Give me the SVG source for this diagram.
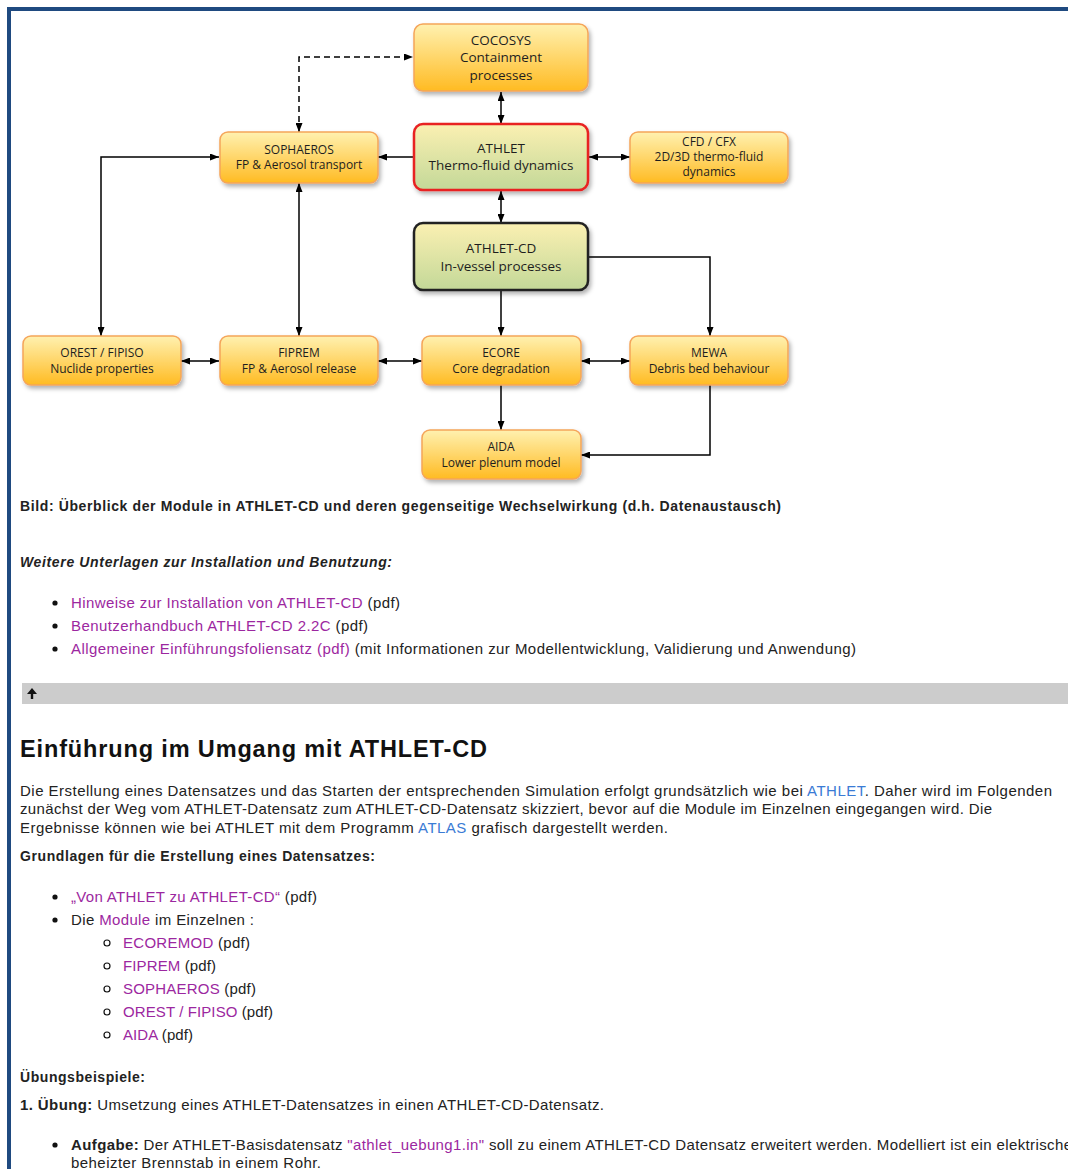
<svg xmlns="http://www.w3.org/2000/svg" width="1068" height="1169" viewBox="0 0 1068 1169">
<defs>
  <linearGradient id="gOrange" x1="0" y1="0" x2="0" y2="1">
    <stop offset="0" stop-color="#fff1b0"/>
    <stop offset="0.5" stop-color="#ffd66a"/>
    <stop offset="1" stop-color="#ffbb22"/>
  </linearGradient>
  <linearGradient id="gGreen" x1="0" y1="0" x2="0" y2="1">
    <stop offset="0" stop-color="#fbf0b2"/>
    <stop offset="1" stop-color="#c3d898"/>
  </linearGradient>
  <filter id="shadow" x="-10%" y="-10%" width="130%" height="140%">
    <feDropShadow dx="2" dy="3" stdDeviation="2" flood-color="#000" flood-opacity="0.3"/>
  </filter>
  <marker id="arr" viewBox="0 0 9 7" refX="9" refY="3.5" markerWidth="9" markerHeight="7" markerUnits="userSpaceOnUse" orient="auto-start-reverse">
    <path d="M0,0 L9,3.5 L0,7 z" fill="#000"/>
  </marker>
  <style>
    .box { fill: url(#gOrange); stroke: #f5a55a; stroke-width: 1.5; filter: url(#shadow); }
    .gbox { fill: url(#gGreen); filter: url(#shadow); }
    .nt { font-family: "Open Sans", "DejaVu Sans", sans-serif; font-size: 12px; fill: #1e1e1e; text-anchor: middle; }
    .nt2 { font-family: "Open Sans", "DejaVu Sans", sans-serif; font-size: 13.5px; fill: #1e1e1e; text-anchor: middle; }
    .cn { fill: none; stroke: #000; stroke-width: 1.5; }
    .t { font-family: "Liberation Sans", Arial, sans-serif; font-size: 15px; fill: #222; }
    .tb { font-family: "Liberation Sans", Arial, sans-serif; font-size: 14px; font-weight: bold; fill: #222; }
    .h { font-family: "Liberation Sans", Arial, sans-serif; font-size: 23.5px; font-weight: bold; fill: #111; }
    .b { font-weight: bold; }
    .lk { fill: #9c27a0; }
    .bl { fill: #3a7bd5; }
  </style>
</defs>
<rect x="0" y="0" width="1068" height="1169" fill="#fff"/>
<!-- frame -->
<path d="M9,1169 V9 H1068" fill="none" stroke="#1f4a80" stroke-width="4"/>

<g id="connectors">
  <path class="cn" d="M299,132 V57 H413" stroke-dasharray="6,4" marker-start="url(#arr)" marker-end="url(#arr)"/>
  <path class="cn" d="M501,92 V124" marker-start="url(#arr)" marker-end="url(#arr)"/>
  <path class="cn" d="M413,157 H378" marker-end="url(#arr)"/>
  <path class="cn" d="M589,157 H630" marker-start="url(#arr)" marker-end="url(#arr)"/>
  <path class="cn" d="M501,191 V223" marker-start="url(#arr)" marker-end="url(#arr)"/>
  <path class="cn" d="M219,157 H101 V336" marker-start="url(#arr)" marker-end="url(#arr)"/>
  <path class="cn" d="M299,183 V336" marker-start="url(#arr)" marker-end="url(#arr)"/>
  <path class="cn" d="M181,361 H219" marker-start="url(#arr)" marker-end="url(#arr)"/>
  <path class="cn" d="M378,361 H422" marker-start="url(#arr)" marker-end="url(#arr)"/>
  <path class="cn" d="M581,361 H630" marker-start="url(#arr)" marker-end="url(#arr)"/>
  <path class="cn" d="M501,291 V336" marker-end="url(#arr)"/>
  <path class="cn" d="M589,257 H710 V336" marker-end="url(#arr)"/>
  <path class="cn" d="M501,385 V430" marker-end="url(#arr)"/>
  <path class="cn" d="M710,385 V455 H581" marker-end="url(#arr)"/>
</g>

<g id="cocosys">
  <rect class="box" x="414" y="24" width="174" height="67" rx="9"/>
  <text class="nt2" x="501" y="45">COCOSYS</text>
  <text class="nt2" x="501" y="62">Containment</text>
  <text class="nt2" x="501" y="80">processes</text>
</g>
<g id="athlet">
  <rect class="gbox" x="414" y="124" width="174" height="66" rx="9" stroke="#e82020" stroke-width="2.5"/>
  <text class="nt2" x="501" y="153">ATHLET</text>
  <text class="nt2" x="501" y="170">Thermo-fluid dynamics</text>
</g>
<g id="cfd">
  <rect class="box" x="630" y="132" width="158" height="51" rx="8"/>
  <text class="nt" x="709" y="146">CFD / CFX</text>
  <text class="nt" x="709" y="161">2D/3D thermo-fluid</text>
  <text class="nt" x="709" y="176">dynamics</text>
</g>
<g id="sophaeros">
  <rect class="box" x="220" y="132" width="158" height="51" rx="8"/>
  <text class="nt" x="299" y="154">SOPHAEROS</text>
  <text class="nt" x="299" y="169">FP &amp; Aerosol transport</text>
</g>
<g id="athlet-cd">
  <rect class="gbox" x="414" y="223" width="174" height="67" rx="9" stroke="#222" stroke-width="2.5"/>
  <text class="nt2" x="501" y="253">ATHLET-CD</text>
  <text class="nt2" x="501" y="271">In-vessel  processes</text>
</g>
<g id="orest">
  <rect class="box" x="23" y="336" width="158" height="49" rx="8"/>
  <text class="nt" x="102" y="357">OREST / FIPISO</text>
  <text class="nt" x="102" y="373">Nuclide properties</text>
</g>
<g id="fiprem">
  <rect class="box" x="220" y="336" width="158" height="49" rx="8"/>
  <text class="nt" x="299" y="357">FIPREM</text>
  <text class="nt" x="299" y="373">FP &amp; Aerosol release</text>
</g>
<g id="ecore">
  <rect class="box" x="422" y="336" width="159" height="49" rx="8"/>
  <text class="nt" x="501" y="357">ECORE</text>
  <text class="nt" x="501" y="373">Core degradation</text>
</g>
<g id="mewa">
  <rect class="box" x="630" y="336" width="158" height="49" rx="8"/>
  <text class="nt" x="709" y="357">MEWA</text>
  <text class="nt" x="709" y="373">Debris bed behaviour</text>
</g>
<g id="aida">
  <rect class="box" x="422" y="430" width="159" height="49" rx="8"/>
  <text class="nt" x="501" y="451">AIDA</text>
  <text class="nt" x="501" y="467">Lower plenum model</text>
</g>

<g id="page-text">
  <text class="tb" x="20" y="511" textLength="761">Bild: Überblick der Module in ATHLET-CD und deren gegenseitige Wechselwirkung (d.h. Datenaustausch)</text>
  <text class="tb" x="20" y="567" font-style="italic" textLength="372">Weitere Unterlagen zur Installation und Benutzung:</text>

  <circle cx="55" cy="603" r="2.6" fill="#111"/>
  <circle cx="55" cy="626" r="2.6" fill="#111"/>
  <circle cx="55" cy="649" r="2.6" fill="#111"/>
  <text class="t" x="71" y="608" textLength="329"><tspan class="lk">Hinweise zur Installation von ATHLET-CD</tspan> (pdf)</text>
  <text class="t" x="71" y="631" textLength="297"><tspan class="lk">Benutzerhandbuch ATHLET-CD 2.2C</tspan> (pdf)</text>
  <text class="t" x="71" y="654" textLength="785"><tspan class="lk">Allgemeiner Einführungsfoliensatz (pdf)</tspan> (mit Informationen zur Modellentwicklung, Validierung und Anwendung)</text>

  <rect x="22" y="683" width="1046" height="21" fill="#cccccc"/>
  <path d="M27,694 L32,688 L37,694 L33.2,694 L33.2,699 L30.8,699 L30.8,694 Z" fill="#111"/>

  <text class="h" x="20" y="757" textLength="467">Einführung im Umgang mit ATHLET-CD</text>
  <text class="t" x="20" y="796" textLength="1032">Die Erstellung eines Datensatzes und das Starten der entsprechenden Simulation erfolgt grundsätzlich wie bei <tspan class="bl">ATHLET</tspan>. Daher wird im Folgenden</text>
  <text class="t" x="20" y="814" textLength="972">zunächst der Weg vom ATHLET-Datensatz zum ATHLET-CD-Datensatz skizziert, bevor auf die Module im Einzelnen eingegangen wird. Die</text>
  <text class="t" x="20" y="833" textLength="648">Ergebnisse können wie bei ATHLET mit dem Programm <tspan class="bl">ATLAS</tspan> grafisch dargestellt werden.</text>

  <text class="tb" x="20" y="861" textLength="355">Grundlagen für die Erstellung eines Datensatzes:</text>

  <circle cx="55" cy="897" r="2.6" fill="#111"/>
  <circle cx="55" cy="920" r="2.6" fill="#111"/>
  <text class="t" x="71" y="902" textLength="246"><tspan class="lk">„Von ATHLET zu ATHLET-CD“</tspan> (pdf)</text>
  <text class="t" x="71" y="925" textLength="183">Die <tspan class="lk">Module</tspan> im Einzelnen :</text>

  <g fill="none" stroke="#111" stroke-width="1.2">
    <circle cx="107" cy="943" r="3"/>
    <circle cx="107" cy="966" r="3"/>
    <circle cx="107" cy="989" r="3"/>
    <circle cx="107" cy="1012" r="3"/>
    <circle cx="107" cy="1035" r="3"/>
  </g>
  <text class="t" x="123" y="948" textLength="127"><tspan class="lk">ECOREMOD</tspan> (pdf)</text>
  <text class="t" x="123" y="971" textLength="93"><tspan class="lk">FIPREM</tspan> (pdf)</text>
  <text class="t" x="123" y="994" textLength="133"><tspan class="lk">SOPHAEROS</tspan> (pdf)</text>
  <text class="t" x="123" y="1017" textLength="150"><tspan class="lk">OREST / FIPISO</tspan> (pdf)</text>
  <text class="t" x="123" y="1040" textLength="70"><tspan class="lk">AIDA</tspan> (pdf)</text>

  <text class="tb" x="20" y="1082" textLength="125">Übungsbeispiele:</text>
  <text class="t" x="20" y="1110" textLength="584"><tspan class="b">1. Übung:</tspan> Umsetzung eines ATHLET-Datensatzes in einen ATHLET-CD-Datensatz.</text>

  <circle cx="55" cy="1145" r="2.6" fill="#111"/>
  <text class="t" x="71" y="1150" textLength="1001"><tspan class="b">Aufgabe:</tspan> Der ATHLET-Basisdatensatz <tspan class="lk">"athlet_uebung1.in"</tspan> soll zu einem ATHLET-CD Datensatz erweitert werden. Modelliert ist ein elektrische</text>
  <text class="t" x="71" y="1168" textLength="250">beheizter Brennstab in einem Rohr.</text>
</g>
</svg>
